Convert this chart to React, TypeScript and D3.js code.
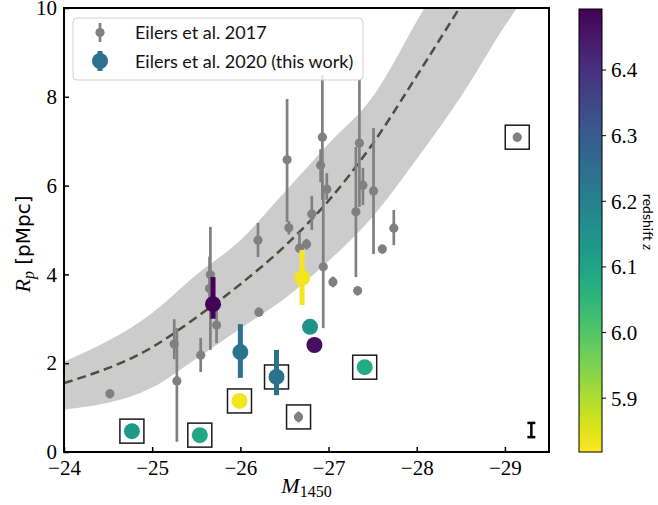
import React, { useRef, useEffect } from "react";
import * as d3 from "d3";

// Eilers et al. 2017 sample
const mag2017 = [-24.52, -25.25, -25.28, -25.55, -25.66, -25.65, -25.73, -26.2, -26.21, -26.53, -26.55, -26.67, -26.75, -26.81, -26.93, -26.91, -26.98, -26.94, -27.05, -27.35, -27.39, -27.31, -27.33, -27.51, -27.61, -27.74, -26.66, -29.14];
const rp2017 = [1.31, 2.43, 1.6, 2.18, 3.99, 3.68, 2.86, 4.77, 3.15, 6.58, 5.05, 4.59, 4.68, 5.36, 7.09, 6.46, 5.92, 4.17, 3.83, 6.96, 6.01, 5.41, 3.63, 5.88, 4.57, 5.04, 0.79, 7.09];
const rpLo2017 = [1.21, 2.09, 0.23, 1.8, 2.3, 3.3, 2.45, 4.39, 3.05, 5.18, 4.9, 4.5, 4.56, 5.0, 5.68, 6.08, 5.68, 2.79, 3.71, 5.52, 5.56, 3.94, 3.53, 4.46, 4.47, 4.66, 0.67, 6.99];
const rpHi2017 = [1.41, 2.99, 2.79, 2.57, 5.07, 4.4, 3.2, 5.16, 3.25, 7.95, 5.2, 4.95, 4.8, 5.77, 8.49, 6.82, 6.28, 5.9, 3.95, 8.38, 6.4, 6.87, 3.73, 7.3, 4.67, 5.45, 0.91, 7.19];
const boxed2017 = [26, 27];

// Eilers et al. 2020 (this work)
const mag2020 = [-25.69, -26.0, -25.99, -26.41, -26.7, -26.79, -26.84, -27.41, -24.77, -25.54];
const rp2020 = [3.33, 2.25, 1.15, 1.69, 3.92, 2.82, 2.41, 1.91, 0.47, 0.38];
const rpLo2020 = [3.0, 1.67, null, 1.28, 3.31, null, null, null, null, null];
const rpHi2020 = [3.94, 2.88, null, 2.3, 4.55, null, null, null, null, null];
const z2020 = [6.49, 6.24, 5.83, 6.24, 5.83, 6.15, 6.47, 6.08, 6.13, 6.09];
const boxed2020 = [2, 3, 7, 8, 9];

// model curve and its scatter band
const curveMag = [-24, -25, -25.5, -26, -26.5, -27, -27.5, -28, -28.5];
const curveRp = [1.55, 2.36, 3.03, 3.78, 4.63, 5.66, 6.94, 8.47, 10.05];
const bandMag = [-24, -25, -25.5, -26, -26.5, -27, -27.5, -28, -28.5, -29, -29.5];
const bandLo = [0.95, 1.45, 2.1, 2.78, 3.45, 4.3, 5.3, 6.6, 8.0, 9.6, 11.0];
const bandHi = [2.03, 3.13, 3.99, 4.77, 5.85, 6.94, 8.0, 9.7, 11.5, 13.5, 15.5];

// typical uncertainty marker
const typMag = -29.3;
const typRp = 0.495;
const typErr = 0.16;

const xTicks = [-24, -25, -26, -27, -28, -29];
const yTicks = [0, 2, 4, 6, 8, 10];
const zTicks = [5.9, 6.0, 6.1, 6.2, 6.3, 6.4];
const zMin = 5.818;
const zMax = 6.493;

const SERIF = "'Liberation Serif', 'DejaVu Serif', serif";
const SANS = "Lato, 'DejaVu Sans', sans-serif";

const App = () => {
  const svgRef = useRef(null);

  useEffect(() => {
    const width = 658;
    const height = 505;
    const plot = { left: 64, right: 549, top: 8, bottom: 452 };

    const xScale = d3.scaleLinear().domain([-24, -29.5]).range([plot.left, plot.right]);
    const yScale = d3.scaleLinear().domain([0, 10]).range([plot.bottom, plot.top]);
    const zScale = d3.scaleLinear().domain([zMin, zMax]).range([452, 9]);
    const color = (z) => d3.interpolateViridis((zMax - z) / (zMax - zMin));
    const minus = (v) => (v < 0 ? "\u2212" + Math.abs(v) : String(v));

    const svg = d3.select(svgRef.current);
    svg.selectAll("*").remove();
    svg.attr("width", width).attr("height", height);

    svg
      .append("defs")
      .append("clipPath")
      .attr("id", "plotclip")
      .append("rect")
      .attr("x", plot.left)
      .attr("y", plot.top)
      .attr("width", plot.right - plot.left)
      .attr("height", plot.bottom - plot.top);

    const g = svg.append("g").attr("clip-path", "url(#plotclip)");

    // scatter band
    const area = d3
      .area()
      .x((d, i) => xScale(bandMag[i]))
      .y0((d, i) => yScale(bandLo[i]))
      .y1((d, i) => yScale(bandHi[i]))
      .curve(d3.curveMonotoneX);
    g.append("path").datum(bandMag).attr("fill", "#cccccc").attr("d", area);

    // model curve
    const line = d3
      .line()
      .x((d, i) => xScale(curveMag[i]))
      .y((d, i) => yScale(curveRp[i]))
      .curve(d3.curveMonotoneX);
    g.append("path")
      .datum(curveMag)
      .attr("fill", "none")
      .attr("stroke", "#4d4d42")
      .attr("stroke-width", 2.5)
      .attr("stroke-dasharray", "9,5")
      .attr("d", line);

    // boxes around flagged objects
    const boxes = [
      ...boxed2017.map((i) => [mag2017[i], rp2017[i]]),
      ...boxed2020.map((i) => [mag2020[i], rp2020[i]]),
    ];
    g.append("g")
      .selectAll("rect")
      .data(boxes)
      .join("rect")
      .attr("x", (d) => xScale(d[0]) - 12)
      .attr("y", (d) => yScale(d[1]) - 12)
      .attr("width", 24)
      .attr("height", 24)
      .attr("fill", "none")
      .attr("stroke", "#1a1a1a")
      .attr("stroke-width", 1.5);

    // Eilers 2017 points
    const old = g.append("g");
    old
      .selectAll("line")
      .data(mag2017)
      .join("line")
      .attr("x1", (d) => xScale(d))
      .attr("x2", (d) => xScale(d))
      .attr("y1", (d, i) => yScale(rpLo2017[i]))
      .attr("y2", (d, i) => yScale(rpHi2017[i]))
      .attr("stroke", "#808080")
      .attr("stroke-width", 2.7);
    old
      .selectAll("circle")
      .data(mag2017)
      .join("circle")
      .attr("cx", (d) => xScale(d))
      .attr("cy", (d, i) => yScale(rp2017[i]))
      .attr("r", 4.6)
      .attr("fill", "#808080");

    // Eilers 2020 points
    const cur = g.append("g");
    mag2020.forEach((m, i) => {
      if (rpLo2020[i] !== null) {
        cur
          .append("line")
          .attr("x1", xScale(m))
          .attr("x2", xScale(m))
          .attr("y1", yScale(rpLo2020[i]))
          .attr("y2", yScale(rpHi2020[i]))
          .attr("stroke", color(z2020[i]))
          .attr("stroke-width", 5);
      }
      cur
        .append("circle")
        .attr("cx", xScale(m))
        .attr("cy", yScale(rp2020[i]))
        .attr("r", 8)
        .attr("fill", color(z2020[i]));
    });

    // typical error bar
    const ty = g.append("g").attr("stroke", "#000").attr("stroke-width", 2.5);
    ty.append("line")
      .attr("x1", xScale(typMag))
      .attr("x2", xScale(typMag))
      .attr("y1", yScale(typRp - typErr))
      .attr("y2", yScale(typRp + typErr));
    [typRp - typErr, typRp + typErr].forEach((v) => {
      ty.append("line")
        .attr("x1", xScale(typMag) - 4)
        .attr("x2", xScale(typMag) + 4)
        .attr("y1", yScale(v))
        .attr("y2", yScale(v));
    });

    // axes
    const xAxis = svg
      .append("g")
      .attr("transform", `translate(0,${plot.bottom})`)
      .call(d3.axisBottom(xScale).tickValues(xTicks).tickSizeInner(-5).tickSizeOuter(0).tickPadding(8).tickFormat(minus));
    const yAxis = svg
      .append("g")
      .attr("transform", `translate(${plot.left},0)`)
      .call(d3.axisLeft(yScale).tickValues(yTicks).tickSizeInner(-5).tickSizeOuter(0).tickPadding(7).tickFormat(minus));
    [xAxis, yAxis].forEach((a) => {
      a.select(".domain").remove();
      a.selectAll(".tick line").attr("stroke", "#000").attr("stroke-width", 1.5);
      a.selectAll(".tick text").attr("fill", "#000").style("font-family", SERIF).style("font-size", "21px");
    });

    svg
      .append("rect")
      .attr("x", plot.left)
      .attr("y", plot.top)
      .attr("width", plot.right - plot.left)
      .attr("height", plot.bottom - plot.top)
      .attr("fill", "none")
      .attr("stroke", "#000")
      .attr("stroke-width", 2);

    // axis labels
    const xl = svg
      .append("text")
      .attr("x", (plot.left + plot.right) / 2)
      .attr("y", 493)
      .attr("text-anchor", "middle")
      .style("font-family", SERIF);
    xl.append("tspan").style("font-style", "italic").style("font-size", "22px").text("M");
    xl.append("tspan").style("font-size", "16px").attr("dy", 4).text("1450");

    const yl = svg
      .append("text")
      .attr("transform", `translate(30,244) rotate(-90)`)
      .attr("text-anchor", "middle");
    yl.append("tspan").style("font-family", SERIF).style("font-style", "italic").style("font-size", "22px").text("R");
    yl.append("tspan").style("font-family", SERIF).style("font-style", "italic").style("font-size", "16px").attr("dy", 4).text("p");
    yl.append("tspan").style("font-family", "'DejaVu Sans', sans-serif").style("font-size", "20px").attr("dy", -4).text(" [pMpc]");

    // legend
    const lg = svg.append("g");
    lg.append("rect")
      .attr("x", 73)
      .attr("y", 18)
      .attr("width", 290)
      .attr("height", 62)
      .attr("rx", 4)
      .attr("fill", "#fff")
      .attr("fill-opacity", 0.8)
      .attr("stroke", "#d0d0d0");
    lg.append("line").attr("x1", 100).attr("x2", 100).attr("y1", 23).attr("y2", 42).attr("stroke", "#808080").attr("stroke-width", 2.7);
    lg.append("circle").attr("cx", 100).attr("cy", 32.5).attr("r", 4.6).attr("fill", "#808080");
    lg.append("line").attr("x1", 100).attr("x2", 100).attr("y1", 51).attr("y2", 71).attr("stroke", color(6.24)).attr("stroke-width", 5);
    lg.append("circle").attr("cx", 100).attr("cy", 61).attr("r", 8).attr("fill", color(6.24));
    lg.append("text").attr("x", 135).attr("y", 39).style("font-family", SANS).style("font-size", "18px").attr("fill", "#111").text("Eilers et al. 2017");
    lg.append("text").attr("x", 135).attr("y", 68).style("font-family", SANS).style("font-size", "18px").attr("fill", "#111").text("Eilers et al. 2020 (this work)");

    // colorbar
    const grad = svg
      .select("defs")
      .append("linearGradient")
      .attr("id", "cbar")
      .attr("x1", 0)
      .attr("y1", 1)
      .attr("x2", 0)
      .attr("y2", 0);
    d3.range(0, 1.0001, 0.05).forEach((t) => {
      grad.append("stop").attr("offset", t).attr("stop-color", color(zMin + t * (zMax - zMin)));
    });
    svg
      .append("rect")
      .attr("x", 579)
      .attr("y", 9)
      .attr("width", 23)
      .attr("height", 443)
      .attr("fill", "url(#cbar)")
      .attr("stroke", "#000")
      .attr("stroke-width", 1);
    const cb = svg.append("g");
    cb.selectAll("line")
      .data(zTicks)
      .join("line")
      .attr("x1", 602)
      .attr("x2", 606)
      .attr("y1", (d) => zScale(d))
      .attr("y2", (d) => zScale(d))
      .attr("stroke", "#000")
      .attr("stroke-width", 1);
    cb.selectAll("text")
      .data(zTicks)
      .join("text")
      .attr("x", 611)
      .attr("y", (d) => zScale(d))
      .attr("dy", "0.35em")
      .style("font-family", SERIF)
      .style("font-size", "21px")
      .text((d) => d.toFixed(1));

    const zl = svg
      .append("text")
      .attr("transform", `translate(643,222) rotate(90)`)
      .attr("text-anchor", "middle");
    zl.append("tspan").style("font-family", SANS).style("font-size", "14px").text("redshift ");
    zl.append("tspan").style("font-family", SERIF).style("font-style", "italic").style("font-size", "15px").text("z");
  }, []);

  return (
    <div style={{ position: "absolute", left: 0, top: 0 }}>
      <svg ref={svgRef}></svg>
    </div>
  );
};

export default App;
